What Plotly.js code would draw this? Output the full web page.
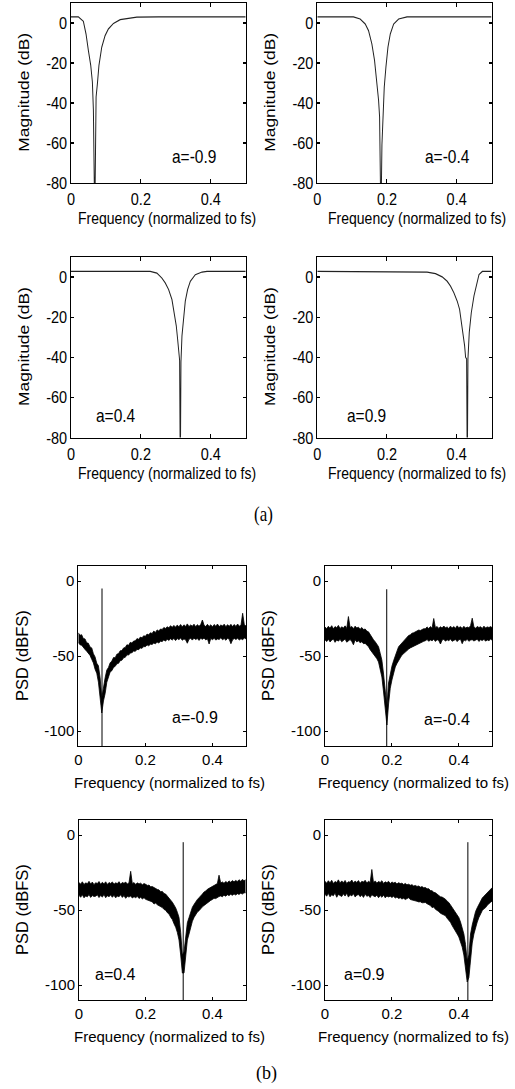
<!DOCTYPE html>
<html>
<head>
<meta charset="utf-8">
<script src="https://cdn.plot.ly/plotly-3.0.1.min.js"></script>
<style>
html,body{margin:0;padding:0;background:#fff;overflow:hidden;}
#wrapA{position:absolute;left:0;top:0;width:515px;height:540px;overflow:hidden;}
#wrapB{position:absolute;left:0;top:540px;width:515px;height:549px;overflow:hidden;}
#plotA{width:515px;height:450px;transform:scaleY(1.2);transform-origin:0 0;}
#plotB{width:515px;height:549px;}
</style>
</head>
<body>
<div id="wrapA"><div id="plotA"></div></div>
<div id="wrapB"><div id="plotB"></div></div>
<script>
// ---------------- data ----------------
const freqTickVals = [0, 0.2, 0.4];
const freqTickText = ['0', '0.2', '0.4'];
const magTickVals = [0, -20, -40, -60, -80];
const magTickText = ['0', '-20', '-40', '-60', '-80'];
const psdTickVals = [0, -50, -100];
const psdTickText = ['0', '-50', '-100'];
const alphaText = ['a=-0.9', 'a=-0.4', 'a=0.4', 'a=0.9'];
const freqTitle = 'Frequency (normalized to fs)';
const magTitle = 'Magnitude (dB)';
const psdTitle = 'PSD (dBFS)';
const panelLabels = ['(a)', '(b)'];

// (a) notch filter magnitude responses
const magFreqM09 = [0, 0.021, 0.0354, 0.043, 0.0498, 0.0565, 0.0612, 0.0641, 0.068, 0.0718, 0.0756, 0.080, 0.088, 0.0976, 0.107, 0.1215, 0.1407, 0.169, 0.1885, 0.25, 0.5];
const magDbM09   = [3.1, 3.1, 0.8, -5.5, -13.8, -21.2, -29.5, -43.6, -100, -37, -30.3, -21.2, -12.1, -6.3, -3.0, -0.2, 1.7, 2.5, 2.9, 3.1, 3.1];

const magFreqM04 = [0, 0.1038, 0.123, 0.1375, 0.147, 0.1566, 0.1643, 0.171, 0.1759, 0.1788, 0.1807, 0.1826, 0.1855, 0.1884, 0.1922, 0.197, 0.2028, 0.2095, 0.2191, 0.2335, 0.2575, 0.5];
const magDbM04   = [3.1, 3.1, 2.0, -0.5, -3.8, -10.4, -18.7, -28.7, -38.6, -46.9, -61.9, -100, -61, -43.6, -32, -22, -12.1, -5.5, -0.5, 2.0, 3.1, 3.1];

const magFreqP04 = [0, 0.1693, 0.2267, 0.2458, 0.2602, 0.2697, 0.2793, 0.2889, 0.2956, 0.3013, 0.3051, 0.309, 0.3109, 0.3128, 0.3147, 0.3176, 0.3224, 0.3271, 0.3338, 0.3415, 0.3558, 0.375, 0.3893, 0.5];
const magDbP04   = [2.8, 2.8, 2.8, 2.0, -0.5, -2.95, -6.2, -11.2, -17.8, -24.3, -30.9, -39.2, -41.6, -100, -42.4, -29.3, -19.4, -12, -6.2, -2.1, 1.2, 2.5, 2.8, 2.8];

const magFreqP09 = [0, 0.3152, 0.3392, 0.3584, 0.3728, 0.3824, 0.392, 0.4016, 0.4084, 0.4141, 0.4189, 0.4228, 0.4257, 0.4286, 0.4305, 0.4324, 0.4362, 0.442, 0.4497, 0.4574, 0.4641, 0.4737, 0.5];
const magDbP09   = [2.8, 2.5, 1.7, 0.1, -2.1, -4.5, -7.8, -12, -16.1, -22.7, -29.3, -34.2, -40, -40.8, -100, -40.8, -27.6, -17.8, -9.4, -2.9, 1.2, 2.8, 2.8];

// (b) output PSDs: noise band upper / lower edges on a common frequency grid
const psdFreq = [0, 0.005, 0.01, 0.015, 0.02, 0.025, 0.03, 0.035, 0.04, 0.045,
  0.05, 0.055, 0.06, 0.065, 0.07, 0.075, 0.08, 0.085, 0.09, 0.095,
  0.10, 0.105, 0.11, 0.115, 0.12, 0.125, 0.13, 0.135, 0.14, 0.145,
  0.15, 0.155, 0.16, 0.165, 0.17, 0.175, 0.18, 0.185, 0.19, 0.195,
  0.20, 0.205, 0.21, 0.215, 0.22, 0.225, 0.23, 0.235, 0.24, 0.245,
  0.25, 0.255, 0.26, 0.265, 0.27, 0.275, 0.28, 0.285, 0.29, 0.295,
  0.30, 0.305, 0.31, 0.315, 0.32, 0.325, 0.33, 0.335, 0.34, 0.345,
  0.35, 0.355, 0.36, 0.365, 0.37, 0.375, 0.38, 0.385, 0.39, 0.395,
  0.40, 0.405, 0.41, 0.415, 0.42, 0.425, 0.43, 0.435, 0.44, 0.445,
  0.45, 0.455, 0.46, 0.465, 0.47, 0.475, 0.48, 0.485, 0.49, 0.495, 0.5];

const psdUpperM09 = [
  -34.5, -36.2, -35.8, -38.4, -38.6, -41.2, -41.5, -44.0, -44.6, -48.5,
  -50.6, -54.8, -56.5, -64.5, -78.0, -69.5, -64.5, -59.4, -57.6, -54.5,
  -53.4, -51.0, -51.2, -48.8, -48.4, -46.5, -46.4, -44.6, -44.3, -42.5,
  -42.9, -40.9, -41.4, -40.0, -39.9, -38.4, -38.9, -37.4, -37.9, -36.5,
  -36.9, -35.4, -35.9, -34.5, -35.0, -33.4, -34.3, -32.6, -33.4, -32.0,
  -32.3, -31.0, -31.6, -30.5, -31.2, -29.8, -30.9, -29.6, -30.8, -29.4,
  -30.5, -29.0, -30.6, -29.2, -30.3, -28.6, -30.4, -29.3, -30.1, -28.8,
  -30.5, -29.1, -30.2, -29.0, -26.0, -29.5, -30.4, -28.9, -30.3, -29.2,
  -30.6, -29.0, -30.1, -28.7, -30.4, -29.3, -30.0, -28.8, -30.5, -29.1,
  -30.2, -28.9, -30.4, -29.0, -30.3, -28.7, -30.1, -29.5, -21.5, -29.2,
  -30.0];
const psdLowerM09 = [
  -41.0, -42.5, -42.8, -44.5, -45.6, -46.8, -48.4, -49.6, -52.2, -54.6,
  -58.8, -61.5, -67.4, -76.0, -88.0, -80.0, -75.0, -67.5, -63.8, -60.6,
  -59.8, -57.6, -56.9, -55.2, -54.9, -53.1, -52.8, -51.2, -50.9, -49.2,
  -49.4, -48.0, -47.8, -46.7, -46.9, -45.6, -45.8, -44.6, -44.9, -43.7,
  -43.8, -42.6, -43.2, -42.1, -42.3, -41.4, -41.9, -40.7, -41.3, -40.2,
  -40.4, -39.3, -40.1, -38.8, -39.6, -38.5, -39.4, -38.3, -39.7, -38.4,
  -39.1, -38.0, -39.5, -38.6, -39.2, -41.5, -38.9, -38.2, -39.4, -38.1,
  -39.0, -38.4, -39.6, -38.2, -38.9, -38.0, -39.3, -38.5, -42.0, -38.3,
  -39.1, -38.2, -39.4, -38.6, -39.0, -37.9, -39.2, -38.4, -39.5, -38.1,
  -38.9, -41.8, -39.2, -38.3, -39.0, -38.2, -39.3, -38.5, -39.1, -38.0,
  -38.6];

const psdUpperM04 = [
  -30.6, -31.8, -30.2, -31.5, -29.8, -31.9, -30.4, -31.2, -29.6, -31.7,
  -30.5, -31.4, -29.9, -31.6, -23.7, -31.0, -30.3, -31.8, -30.1, -31.3,
  -30.8, -32.1, -31.0, -32.4, -32.0, -33.4, -33.9, -36.0, -37.3, -39.2,
  -40.5, -42.2, -43.8, -48.2, -52.8, -62.0, -75.0, -84.0, -68.0, -61.2,
  -56.8, -53.2, -49.3, -46.8, -43.8, -42.6, -40.8, -39.7, -38.3, -37.6,
  -36.3, -35.9, -34.8, -34.5, -33.8, -33.6, -32.7, -33.0, -32.3, -31.8,
  -31.9, -30.6, -31.7, -30.4, -31.5, -25.0, -31.2, -30.3, -31.6, -30.5,
  -31.4, -30.0, -31.2, -30.6, -31.7, -30.1, -31.3, -30.4, -31.5, -29.9,
  -31.1, -30.5, -31.6, -30.2, -31.4, -30.7, -31.2, -29.8, -24.8, -30.6,
  -31.5, -30.3, -31.0, -30.5, -31.6, -30.1, -31.3, -30.6, -31.0, -30.4,
  -31.2];
const psdLowerM04 = [
  -39.2, -40.4, -38.8, -40.6, -39.5, -38.6, -40.9, -39.3, -40.1, -38.9,
  -40.5, -39.4, -38.7, -40.8, -39.6, -39.0, -40.3, -42.5, -39.2, -40.6,
  -39.8, -41.2, -40.5, -41.8, -41.6, -42.4, -43.8, -45.8, -47.2, -48.6,
  -50.5, -51.8, -54.0, -58.6, -64.0, -74.0, -88.0, -96.0, -82.0, -71.5,
  -66.0, -61.2, -57.3, -55.0, -52.6, -51.2, -49.4, -48.3, -47.1, -46.2,
  -45.4, -44.6, -44.0, -43.3, -42.9, -42.2, -41.6, -41.3, -40.8, -40.2,
  -39.8, -39.0, -40.2, -39.3, -39.9, -38.8, -40.3, -39.1, -39.7, -42.0,
  -39.4, -38.9, -40.1, -39.2, -39.8, -38.7, -40.2, -39.5, -39.0, -40.4,
  -39.2, -38.8, -41.8, -39.3, -39.9, -38.9, -40.2, -39.4, -39.1, -40.0,
  -39.5, -38.8, -40.3, -39.2, -39.7, -38.9, -40.1, -39.3, -39.8, -38.7,
  -39.6];

const psdUpperP04 = [
  -31.6, -32.8, -31.2, -33.0, -31.9, -32.5, -30.9, -32.7, -31.4, -33.1,
  -31.8, -32.4, -31.0, -32.9, -31.5, -32.6, -31.2, -33.0, -31.7, -32.3,
  -31.3, -32.8, -31.9, -32.4, -31.1, -32.9, -31.6, -32.2, -31.4, -32.7,
  -31.8, -24.2, -32.5, -31.7, -33.0, -31.9, -32.6, -32.1, -33.2, -32.4,
  -32.9, -33.6, -33.4, -34.5, -34.4, -35.2, -35.5, -36.3, -36.6, -37.8,
  -37.6, -39.0, -39.4, -40.8, -41.6, -43.2, -44.8, -46.7, -48.6, -51.5,
  -55.0, -65.0, -80.0, -78.0, -66.0, -58.5, -55.0, -51.2, -48.2, -46.3,
  -44.2, -43.0, -41.8, -40.2, -39.4, -38.0, -37.4, -36.2, -35.6, -34.5,
  -34.0, -33.5, -33.2, -32.4, -26.8, -32.0, -31.3, -32.2, -31.0, -31.8,
  -30.6, -31.5, -30.4, -31.2, -30.3, -31.0, -29.8, -30.9, -29.6, -30.5,
  -29.8];
const psdLowerP04 = [
  -40.2, -41.5, -39.8, -41.9, -40.6, -41.2, -39.7, -41.6, -40.4, -41.0,
  -40.8, -39.9, -41.7, -40.3, -41.4, -39.6, -41.8, -40.5, -41.1, -40.0,
  -41.5, -40.2, -41.9, -40.7, -41.2, -39.8, -41.6, -40.4, -42.2, -40.9,
  -41.4, -40.6, -42.0, -41.1, -41.8, -40.9, -42.3, -41.5, -42.6, -41.8,
  -42.9, -43.2, -44.0, -43.8, -44.6, -46.0, -45.4, -46.5, -47.0, -47.9,
  -48.4, -49.6, -50.2, -51.8, -52.7, -54.8, -56.4, -59.2, -61.5, -65.0,
  -70.0, -80.0, -92.0, -92.0, -78.0, -70.0, -66.0, -61.0, -57.5, -55.0,
  -52.8, -51.4, -50.5, -48.8, -47.9, -47.0, -46.0, -45.2, -44.5, -43.6,
  -43.0, -42.2, -42.4, -41.5, -41.0, -40.6, -41.2, -40.1, -40.8, -39.8,
  -40.4, -39.5, -40.2, -39.3, -40.0, -39.1, -39.6, -38.8, -39.4, -38.5,
  -38.6];

const psdUpperP09 = [
  -30.8, -32.2, -30.5, -31.9, -30.2, -32.4, -31.0, -31.7, -29.9, -32.1,
  -30.6, -31.8, -30.3, -32.3, -31.1, -31.5, -30.0, -32.0, -30.7, -31.6,
  -30.4, -32.2, -30.9, -31.4, -30.2, -32.0, -30.8, -31.7, -23.0, -31.9,
  -30.6, -32.1, -31.0, -31.6, -30.5, -32.3, -31.2, -31.8, -30.9, -32.4,
  -31.3, -32.0, -31.5, -32.6, -31.8, -32.4, -32.1, -33.0, -32.3, -33.2,
  -32.8, -33.5, -33.1, -34.0, -33.6, -34.3, -34.0, -34.8, -34.4, -35.2,
  -35.0, -35.9, -35.8, -37.0, -37.2, -38.2, -38.5, -39.6, -40.0, -41.2,
  -41.4, -42.0, -42.8, -44.1, -45.0, -46.6, -48.4, -50.0, -52.0, -53.8,
  -55.0, -58.0, -61.5, -66.0, -73.0, -84.0, -80.0, -66.0, -60.0, -55.0,
  -51.0, -48.5, -46.0, -43.8, -42.0, -40.8, -39.6, -38.2, -37.0, -36.0,
  -35.0];
const psdLowerP09 = [
  -39.5, -40.8, -38.9, -41.2, -39.8, -40.5, -38.7, -41.5, -39.6, -40.3,
  -41.0, -39.2, -40.7, -38.8, -41.4, -39.9, -40.6, -39.1, -41.3, -40.2,
  -39.6, -41.1, -40.0, -41.6, -39.4, -40.9, -40.3, -41.7, -39.8, -40.6,
  -41.2, -40.1, -41.8, -40.4, -41.5, -40.0, -41.9, -40.7, -41.3, -40.8,
  -41.6, -40.9, -42.0, -41.4, -42.3, -41.8, -42.7, -42.1, -43.0, -42.4,
  -41.8, -43.0, -43.2, -43.6, -44.0, -44.2, -44.6, -44.5, -45.2, -44.9,
  -45.0, -45.8, -46.2, -47.0, -48.4, -48.0, -49.5, -50.2, -51.0, -52.2,
  -52.6, -53.2, -53.8, -55.5, -56.6, -58.2, -60.4, -62.0, -64.0, -66.0,
  -68.0, -71.0, -74.7, -80.0, -88.0, -98.0, -95.0, -81.0, -72.0, -66.0,
  -61.0, -58.0, -55.0, -52.5, -50.4, -49.2, -48.4, -46.8, -45.6, -44.8,
  -44.0];

// input tone (at the notch frequency) and the notch floor
const toneFreq = [0.0707, 0.1845, 0.3125, 0.427];
const toneDb = [-5.0, -5.5, -4.8, -4.8];
const notchFloorDb = [-115, -115, -115, -115];

// ---------------- layout helpers ----------------
const FONT = 'Liberation Sans, Arial, Helvetica, sans-serif';
const SERIF = 'Liberation Serif, Times New Roman, serif';
const W = 515;

function axis(range, tv, tt, domain, anchor, fs) {
  return {
    range: range, domain: domain, anchor: anchor,
    showline: true, linecolor: '#000', linewidth: 1, mirror: 'ticks',
    ticks: 'inside', ticklen: 3, tickcolor: '#000', tickwidth: 1,
    showgrid: false, zeroline: false, tickmode: 'array',
    tickvals: tv, ticktext: tt,
    tickfont: {family: FONT, size: fs, color: '#000'},
    fixedrange: true
  };
}
function txt(x, y, xref, yref, s, size, extra) {
  return Object.assign({x: x, y: y, xref: xref, yref: yref, text: s, showarrow: false,
    font: {family: FONT, size: size, color: '#000'}, xanchor: 'center', yanchor: 'middle'}, extra || {});
}

// ---------------- figure (a) ----------------
const HA = 540;
const rectsA = [ // [left, right, top, bottom] in px of the 540-high region
  [71, 245.7, 3, 183], [317.3, 491.5, 3, 183],
  [71, 245.7, 257, 437.5], [317.3, 491.5, 257, 437.5]];
const magSets = [[magFreqM09, magDbM09], [magFreqM04, magDbM04], [magFreqP04, magDbP04], [magFreqP09, magDbP09]];
const alphaPosA = [[0.353, -67], [0.375, -67], [0.13, -69], [0.14, -69]];
const layoutA = {width: W, height: 450, margin: {l: 0, r: 0, t: 0, b: 0}, autosize: false,
  paper_bgcolor: '#fff', plot_bgcolor: '#fff', showlegend: false, annotations: []};
const tracesA = [];
rectsA.forEach((r, i) => {
  const n = i === 0 ? '' : String(i + 1);
  layoutA['xaxis' + n] = axis([0, 0.5], freqTickVals, freqTickText, [r[0] / W, r[1] / W], 'y' + n, 14.5);
  layoutA['yaxis' + n] = axis([-80, 10], magTickVals, magTickText, [1 - r[3] / HA, 1 - r[2] / HA], 'x' + n, 14.5);
  tracesA.push({x: magSets[i][0], y: magSets[i][1], xaxis: 'x' + n, yaxis: 'y' + n, type: 'scatter',
    mode: 'lines', line: {color: '#222', width: 1}, hoverinfo: 'skip'});
  layoutA.annotations.push(txt(alphaPosA[i][0], alphaPosA[i][1], 'x' + n, 'y' + n, alphaText[i], 15.5));
  const xc = (i % 2 === 0) ? 167 : 417;
  layoutA.annotations.push(txt(xc / W, 1 - (r[3] + 35.5) / HA, 'paper', 'paper', freqTitle, 14));
  const yx = (i % 2 === 0) ? 24 : 270;
  layoutA.annotations.push(txt(yx / W, 1 - (r[2] + r[3]) / 2 / HA, 'paper', 'paper', magTitle, 14.5, {textangle: -90}));
});
layoutA.annotations.push(txt(263 / W, 1 - 514 / HA, 'paper', 'paper', panelLabels[0], 17,
  {font: {family: SERIF, size: 17, color: '#000'}}));

// ---------------- figure (b) ----------------
const HB = 549, OB = 540;
const rectsB = [
  [78.3, 246, 566, 746], [325, 492.3, 566, 746],
  [79, 245.7, 820, 1000], [325, 492.3, 820, 1000]];
const psdSets = [[psdUpperM09, psdLowerM09], [psdUpperM04, psdLowerM04], [psdUpperP04, psdLowerP04], [psdUpperP09, psdLowerP09]];
const alphaPosB = [[0.347, -91], [0.366, -92], [0.11, -93.3], [0.117, -93.3]];
const layoutB = {width: W, height: HB, margin: {l: 0, r: 0, t: 0, b: 0}, autosize: false,
  paper_bgcolor: '#fff', plot_bgcolor: '#fff', showlegend: false, annotations: []};
const tracesB = [];
rectsB.forEach((r, i) => {
  const n = i === 0 ? '' : String(i + 1);
  const top = r[2] - OB, bot = r[3] - OB;
  layoutB['xaxis' + n] = axis([0, 0.5], freqTickVals, freqTickText, [r[0] / W, r[1] / W], 'y' + n, 15);
  layoutB['yaxis' + n] = axis([-110, 10], psdTickVals, psdTickText, [1 - bot / HB, 1 - top / HB], 'x' + n, 15);
  tracesB.push({x: psdFreq, y: psdSets[i][1], xaxis: 'x' + n, yaxis: 'y' + n, type: 'scatter',
    mode: 'lines', line: {color: '#000', width: 0.8}, hoverinfo: 'skip'});
  tracesB.push({x: psdFreq, y: psdSets[i][0], xaxis: 'x' + n, yaxis: 'y' + n, type: 'scatter',
    mode: 'lines', fill: 'tonexty', fillcolor: '#000', line: {color: '#000', width: 0.8}, hoverinfo: 'skip'});
  tracesB.push({x: [toneFreq[i], toneFreq[i]], y: [notchFloorDb[i], toneDb[i]], xaxis: 'x' + n, yaxis: 'y' + n,
    type: 'scatter', mode: 'lines', line: {color: '#000', width: 1}, hoverinfo: 'skip'});
  layoutB.annotations.push(txt(alphaPosB[i][0], alphaPosB[i][1], 'x' + n, 'y' + n, alphaText[i], 16));
  const xc = (i % 2 === 0) ? 169 : 413;
  layoutB.annotations.push(txt(xc / W, 1 - (bot + 36) / HB, 'paper', 'paper', freqTitle, 15));
  const yx = (i % 2 === 0) ? 22 : 268;
  layoutB.annotations.push(txt(yx / W, 1 - (top + bot) / 2 / HB, 'paper', 'paper', psdTitle, 16.5, {textangle: -90}));
});
layoutB.annotations.push(txt(266 / W, 1 - (1073 - OB) / HB, 'paper', 'paper', panelLabels[1], 18,
  {font: {family: SERIF, size: 18, color: '#000'}}));

const cfg = {staticPlot: true, displayModeBar: false};
Plotly.newPlot('plotA', tracesA, layoutA, cfg);
Plotly.newPlot('plotB', tracesB, layoutB, cfg);
</script>
</body>
</html>
